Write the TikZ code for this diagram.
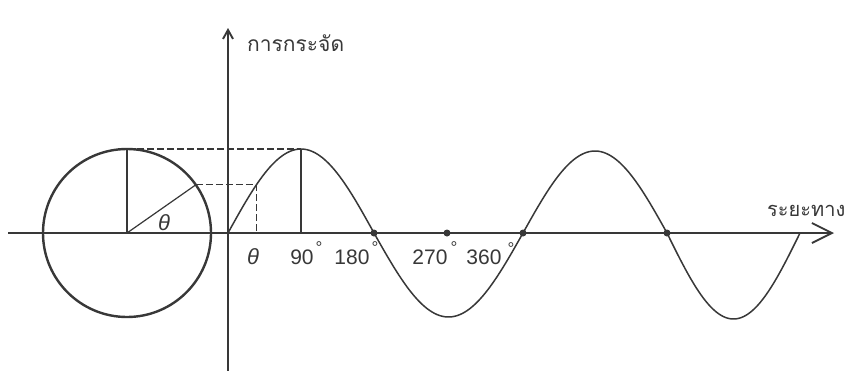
\documentclass[tikz,border=0pt]{standalone}
\usepackage{fontspec}
\setsansfont{Liberation Sans}
\newfontfamily\thaifont[Script=Thai]{Loma}
\usetikzlibrary{arrows.meta}
\definecolor{inkc}{HTML}{383838}
\begin{document}
\begin{tikzpicture}[x=1pt,y=-1pt,
  axisline/.style={draw=inkc, line width=1.9pt},
  circline/.style={draw=inkc, line width=2.4pt},
  wave/.style={draw=inkc, line width=1.5pt},
  thinline/.style={draw=inkc, line width=1.2pt},
  dashline/.style={draw=inkc, line width=1.3pt, dash pattern=on 7pt off 3pt},
  lbl/.style={text=inkc, font=\sffamily\fontsize{21}{21}\selectfont, inner sep=0pt},
  deglbl/.style={text=inkc, font=\sffamily\fontsize{17}{17}\selectfont, inner sep=0pt},
  thlbl/.style={text=inkc, font=\thaifont\fontsize{21}{21}\selectfont, inner sep=0pt, anchor=west},
  greek/.style={text=inkc, font=\sffamily\itshape\fontsize{22}{22}\selectfont, inner sep=0pt},
  dotmark/.style={circle, fill=inkc, inner sep=0pt, minimum size=7pt}
]
\useasboundingbox (0,0) rectangle (852,370);
\clip (0,0) rectangle (852,370);
\fill[white] (0,0) rectangle (852,370);

% key points
\coordinate (hs) at (8,233);
\coordinate (he) at (834,233);
\coordinate (vs) at (228,372);
\coordinate (ve) at (228,28);
\coordinate (C) at (127,233);
\coordinate (Ctop) at (127,149);
\coordinate (P) at ({127+84*cos(35)},{233-84*sin(35)});
\coordinate (Q) at ({228+146*35/180},{233-84*sin(35)});
\coordinate (Qb) at ({228+146*35/180},233);
\coordinate (peak) at (301,149);
\coordinate (peakb) at (301,233);

% circle
\draw[circline] (C) circle[radius=84];
\draw[thinline] (C) -- (Ctop);
\draw[thinline] (C) -- (P);

% dashed projections
\draw[dashline] (Ctop) -- (peak);
\draw[dashline] (P) -- (Q) -- (Qb);
\draw[thinline] (peak) -- (peakb);

% axes
\draw[axisline, -{Straight Barb[length=20pt, width=20pt]}] (hs) -- (he);
\draw[axisline, -{Straight Barb[length=9pt, width=10pt]}] (vs) -- (ve);

% wave
\draw[wave] plot[variable=\t, domain=0:1, samples=60] ({228+146*\t},{233-84*sin(180*\t)});
\draw[wave] plot[variable=\t, domain=0:1, samples=60] ({374+149*\t},{233+84*sin(180*\t)});
\draw[wave] plot[variable=\t, domain=0:1, samples=60] ({523+144*\t},{233-82*sin(180*\t)});
\draw[wave] plot[variable=\t, domain=0:1, samples=60] ({667+133*\t},{233+86*sin(180*\t)});

% dots
\node[dotmark] (d180) at (374,233) {};
\node[dotmark] (d270) at (447,233) {};
\node[dotmark] (d360) at (523,233) {};
\node[dotmark] (d540) at (667,233) {};

% labels
\node[greek] (thc) at (164,223) {θ};
\node[greek] (thx) at (253,257) {θ};
\node[lbl] (l90) at (302,257.5) {90};
\node[deglbl] (g90) at (319,248) {°};
\node[lbl] (l180) at (352,257.5) {180};
\node[deglbl] (g180) at (375,248) {°};
\node[lbl] (l270) at (430,257.5) {270};
\node[deglbl] (g270) at (454,248) {°};
\node[lbl] (l360) at (484,257.5) {360};
\node[deglbl] (g360) at (511,249) {°};

\node[thlbl] (ylab) at (247,43) {การกระจัด};
\node[thlbl, font=\thaifont\fontsize{20}{20}\selectfont] (xlab) at (767,211) {ระยะทาง};
\end{tikzpicture}
\end{document}
